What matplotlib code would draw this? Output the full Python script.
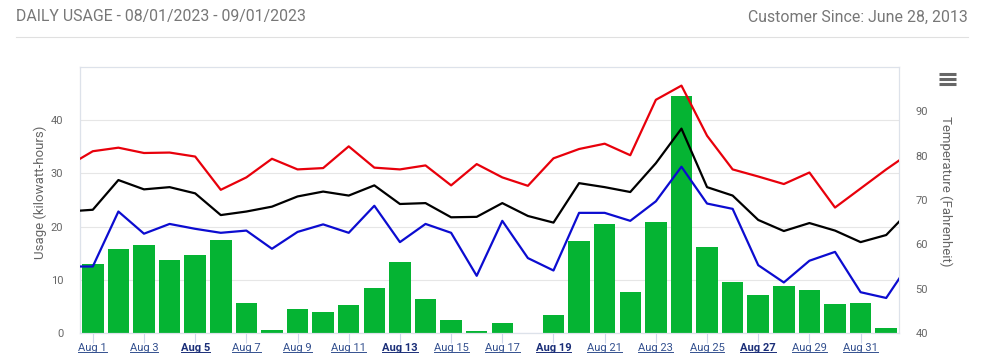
import numpy as np
import matplotlib
matplotlib.use("Agg")
import matplotlib.pyplot as plt
from matplotlib.lines import Line2D

plt.rcParams['font.family'] = ['Roboto', 'DejaVu Sans']

# daily usage Aug 1 .. Sep 1 (kWh)
days = ["Aug %d" % d for d in range(1, 32)] + ["Sep 1"]
usage = [13.0, 15.8, 16.6, 13.8, 14.7, 17.5, 5.6, 0.5, 4.5, 3.9, 5.3, 8.5,
         13.4, 6.4, 2.4, 0.3, 1.9, 0.0, 3.4, 17.2, 20.4, 7.8, 20.8, 44.5,
         16.2, 9.6, 7.2, 8.9, 8.0, 5.5, 5.6, 0.9]

# temperatures Jul 31 .. Sep 2 (first and last only show up to the plot edge)
temp_high = [77.6, 81.0, 81.8, 80.6, 80.7, 79.8, 72.3, 75.1, 79.3, 76.9, 77.2, 82.1,
             77.3, 76.9, 77.8, 73.3, 78.1, 75.1, 73.2, 79.4, 81.5, 82.7, 80.1, 92.6,
             95.8, 84.5, 76.9, 75.3, 73.6, 76.2, 68.3, 72.6, 76.9, 80.9]
temp_avg = [67.4, 67.8, 74.5, 72.4, 72.9, 71.5, 66.6, 67.4, 68.5, 70.8, 71.9, 71.0,
            73.3, 69.1, 69.3, 66.1, 66.2, 69.3, 66.4, 64.9, 73.8, 72.9, 71.8, 78.3,
            86.1, 72.9, 71.0, 65.5, 63.0, 64.8, 63.1, 60.5, 62.1, 68.1]
temp_low = [55.0, 55.0, 67.4, 62.4, 64.6, 63.5, 62.6, 63.1, 59.0, 62.8, 64.5, 62.6,
            68.7, 60.5, 64.6, 62.6, 52.9, 65.3, 56.9, 54.1, 67.1, 67.1, 65.3, 69.7,
            77.5, 69.2, 68.0, 55.3, 51.4, 56.3, 58.3, 49.2, 47.9, 56.5]

bold_days = ["Aug 5", "Aug 13", "Aug 19", "Aug 27"]

W, H = 986, 364
fig = plt.figure(figsize=(W / 100, H / 100), dpi=100)
ax = fig.add_axes([80 / W, 1 - 333 / H, (899 - 80) / W, (333 - 67) / H])
ax2 = ax.twinx()

x = np.arange(len(days))
ax.bar(x, usage, width=0.84, color="#05b433", zorder=2)
ax.set_xlim(-0.5, len(days) - 0.5)
ax.set_ylim(0, 50)
ax.set_yticks([0, 10, 20, 30, 40])
ax.grid(axis="y", color="#e6e6e6", lw=0.8, zorder=0)
ax.set_axisbelow(True)

xt = np.arange(-1, len(days) + 1)
ax2.plot(xt, temp_high, color="#e8000b", lw=1.6, zorder=3)
ax2.plot(xt, temp_avg, color="#000000", lw=1.6, zorder=3)
ax2.plot(xt, temp_low, color="#0c0cd0", lw=1.6, zorder=3)
ax2.set_ylim(40, 100)
ax2.set_yticks([40, 50, 60, 70, 80, 90])
ax2.set_xlim(-0.5, len(days) - 0.5)

# bars under the lines
ax.set_zorder(1)
ax.patch.set_visible(False)
ax2.set_zorder(2)

for a in (ax, ax2):
    for s in a.spines.values():
        s.set_color("#dde2ea")
        s.set_linewidth(0.8)
ax.spines["bottom"].set_color("#ccd6eb")
ax.spines["left"].set_color("#ccd6eb")

ax.tick_params(axis="y", length=0, pad=12, labelsize=8, labelcolor="#666666")
ax2.tick_params(axis="y", length=0, pad=12, labelsize=8, labelcolor="#666666")

ticks = x[::2]
ax.set_xticks(ticks)
ax.set_xticklabels([days[i] for i in ticks])
ax.tick_params(axis="x", length=7, width=0.8, color="#ccd6eb", pad=0, labelsize=8)
for lab in ax.get_xticklabels():
    if lab.get_text() in bold_days:
        lab.set_fontweight("bold")
        lab.set_color("#1a2e78")
    else:
        lab.set_color("#33508f")

# axis titles
fig.text(40 / W, 1 - 192 / H, "Usage (kilowatt-hours)", fontsize=9.5,
         color="#666666", rotation=90, ha="center", va="center")
fig.text(946 / W, 1 - 191 / H, "Temperature (Fahrenheit)", fontsize=9.5,
         color="#666666", rotation=270, ha="center", va="center")

# header
fig.text(16 / W, 1 - 17 / H, "DAILY USAGE - 08/01/2023 - 09/01/2023",
         fontsize=11.4, color="#777777", va="center", ha="left")
fig.text(968 / W, 1 - 17 / H, "Customer Since: June 28, 2013",
         fontsize=11.4, color="#777777", va="center", ha="right")
fig.add_artist(Line2D([16 / W, 968 / W], [1 - 37 / H, 1 - 37 / H],
                      color="#e0e0e0", lw=0.8))

# menu icon
for yy in (74, 79, 84):
    fig.add_artist(Line2D([939 / W, 956 / W], [1 - yy / H, 1 - yy / H],
                          color="#666666", lw=2.2, solid_capstyle="butt"))

# underline the date labels
fig.canvas.draw()
r = fig.canvas.get_renderer()
for lab in ax.get_xticklabels():
    bb = lab.get_window_extent(r)
    yy = bb.y0 + 0.5
    fig.add_artist(Line2D([bb.x0 / W, bb.x1 / W], [yy / H, yy / H],
                          color=lab.get_color(), lw=0.7))

fig.savefig("out.png", dpi=100)
